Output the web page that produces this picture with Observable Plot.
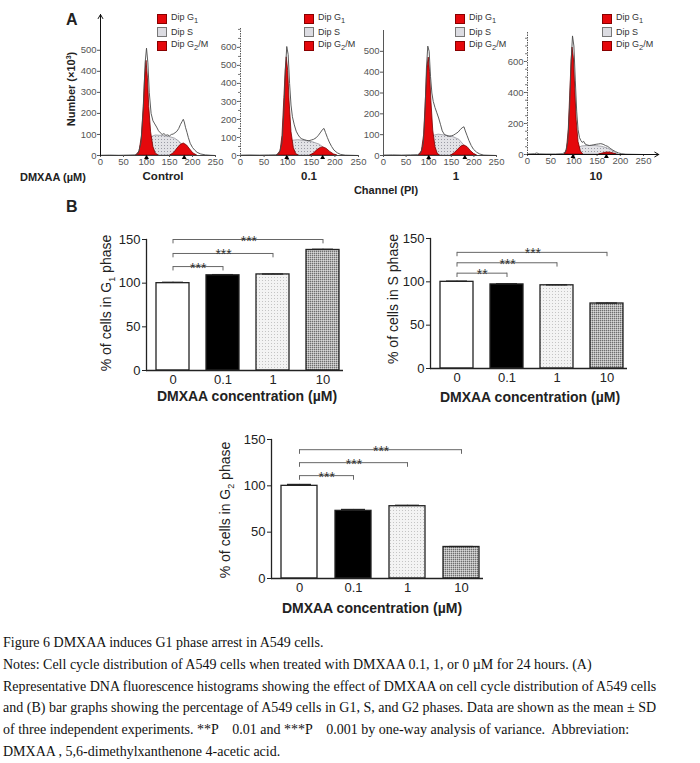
<!DOCTYPE html>
<html><head><meta charset="utf-8">
<script src="https://cdn.jsdelivr.net/npm/d3@7"></script>
<script src="https://cdn.jsdelivr.net/npm/@observablehq/plot@0.6"></script>
<style>
body{margin:0;background:#fff;}
#fig{position:relative;width:700px;height:763px;overflow:hidden;font-family:"Liberation Sans",Arial,sans-serif;color:#222;}
.t{position:absolute;white-space:nowrap;line-height:1;}
.panel{position:absolute;}
.sw{position:absolute;width:10px;height:10px;box-sizing:border-box;}
.cap{position:absolute;left:3px;white-space:pre;font-family:"Liberation Serif","Times New Roman",serif;font-size:14px;color:#111;line-height:1;}
</style></head><body>
<svg width="0" height="0" style="position:absolute">
<defs>
<pattern id="dots" width="3" height="3" patternUnits="userSpaceOnUse"><rect width="3" height="3" fill="#f3f3f3"/><rect x="1" y="1" width="1" height="1" fill="#c4c4c4"/></pattern>
<pattern id="hatch" width="2" height="2" patternUnits="userSpaceOnUse"><rect width="2" height="2" fill="#b4b4b4"/><rect x="0" y="0" width="1" height="1" fill="#6e6e6e"/><rect x="1" y="1" width="1" height="1" fill="#d8d8d8"/></pattern>
<pattern id="sdots" width="3" height="3" patternUnits="userSpaceOnUse"><rect width="3" height="3" fill="#e2e2e6"/><rect x="1" y="1" width="1" height="1" fill="#9a9aa4"/></pattern>
</defs></svg>
<div id="fig"></div>
<script>
// ---------- Panel A data (channel, count) ----------
const histXTicks = [0, 50, 100, 150, 200, 250];
const histLabels = ["Control", "0.1", "1", "10"];
const legendLabels = ["Dip G<sub>1</sub>", "Dip S", "Dip G<sub>2</sub>/M"];

const controlTotal = [[0,1],[20,2],[40,1],[60,2],[75,3],[82,10],[88,60],[93,220],[97,440],[100,510],[103,440],[106,300],[110,200],[114,165],[118,150],[122,135],[126,118],[130,108],[134,100],[138,104],[142,96],[146,98],[150,93],[154,100],[158,102],[162,108],[166,115],[170,128],[174,148],[177,160],[180,172],[182,160],[185,132],[188,110],[191,85],[195,58],[200,38],[205,25],[210,15],[218,7],[228,3],[240,1],[250,0]];
const controlG1 = [[78,0],[85,20],[90,90],[94,230],[97,370],[100,450],[103,370],[106,230],[110,110],[115,40],[120,10],[126,0]];
const controlS = [[92,0],[100,30],[106,70],[112,88],[120,95],[135,93],[150,88],[162,80],[172,65],[180,45],[187,20],[193,0]];
const controlG2 = [[152,0],[160,12],[167,32],[174,50],[181,57],[188,48],[195,28],[202,10],[210,0]];
const controlPeaks = [100, 182];

const t01Total = [[0,2],[20,3],[40,2],[60,3],[75,4],[82,12],[88,70],[92,250],[95,470],[98,605],[101,560],[104,400],[107,280],[110,215],[114,170],[118,135],[122,115],[126,100],[130,92],[135,88],[140,84],[145,82],[150,86],[155,90],[160,98],[165,112],[170,130],[174,145],[177,150],[180,128],[184,100],[188,75],[193,50],[198,30],[205,15],[212,6],[222,2],[250,0]];
const t01G1 = [[78,0],[85,25],[89,110],[93,320],[96,480],[98,545],[101,470],[104,300],[108,130],[113,40],[118,8],[123,0]];
const t01S = [[92,0],[100,35],[106,70],[112,82],[122,85],[140,80],[155,72],[168,60],[178,40],[186,18],[193,0]];
const t01G2 = [[148,0],[156,12],[163,30],[170,42],[175,45],[182,38],[190,20],[198,6],[205,0]];
const t01Peaks = [98, 174];

const t1Total = [[0,2],[20,3],[40,2],[60,3],[75,4],[82,10],[88,55],[92,220],[95,420],[98,525],[101,500],[104,380],[107,300],[110,260],[114,230],[118,205],[122,180],[126,150],[130,118],[135,100],[140,96],[145,92],[150,94],[155,98],[160,105],[165,112],[170,125],[174,133],[178,138],[181,118],[185,95],[189,72],[194,48],[199,30],[206,16],[213,7],[222,2],[250,0]];
const t1G1 = [[78,0],[85,20],[90,100],[94,280],[97,420],[100,470],[103,400],[106,260],[110,120],[115,40],[120,8],[125,0]];
const t1S = [[92,0],[100,30],[106,75],[112,95],[122,100],[140,95],[155,88],[168,75],[178,50],[187,22],[194,0]];
const t1G2 = [[150,0],[158,12],[166,30],[173,44],[179,48],[186,40],[193,22],[200,8],[207,0]];
const t1Peaks = [100, 180];

const t10Total = [[0,3],[15,5],[20,10],[25,4],[40,3],[60,3],[75,5],[82,15],[87,90],[91,330],[94,600],[97,765],[100,700],[103,480],[106,280],[109,160],[112,110],[115,90],[118,78],[121,85],[124,68],[128,62],[133,58],[138,60],[143,63],[148,66],[153,68],[158,70],[163,66],[168,58],[173,52],[178,40],[184,28],[190,18],[196,10],[203,5],[212,2],[250,0]];
const t10G1 = [[80,0],[85,30],[89,160],[92,380],[95,600],[97,690],[100,620],[103,420],[106,220],[110,80],[115,20],[120,0]];
const t10S = [[96,0],[104,25],[110,42],[118,52],[130,55],[145,55],[160,50],[172,40],[182,25],[190,10],[196,0]];
const t10G2 = [[155,0],[162,6],[168,11],[174,13],[180,11],[186,6],[192,0]];
const t10Peaks = [98, 170];

const hist1YTicks = [0,100,200,300,400,500];
const hist2YTicks = [0,100,200,300,400,500,600];
const hist3YTicks = [0,100,200,300,400,500];
const hist4YTicks = [0,200,400,600];

// ---------- Panel B data ----------
const concentrations = ["0", "0.1", "1", "10"];
const g1Values = [100, 109, 110, 138];
const g1Sd = [1.0, 0.8, 0.5, 0.8];
const sValues = [100, 97, 96, 75];
const sSd = [0.8, 0.8, 0.5, 0.5];
const g2Values = [100, 73, 78, 34];
const g2Sd = [1.5, 1.5, 1.0, 0.5];
const g1Brackets = [{to:"10", y:150, label:"***"}, {to:"1", y:134, label:"***"}, {to:"0.1", y:119, label:"***"}];
const sBrackets = [{to:"10", y:134, label:"***"}, {to:"1", y:122, label:"***"}, {to:"0.1", y:110, label:"**"}];
const g2Brackets = [{to:"10", y:139, label:"***"}, {to:"1", y:125, label:"***"}, {to:"0.1", y:111, label:"***"}];
const yTicksB = [0, 50, 100, 150];
const barFills = ["#ffffff", "#000000", "url(#dots)", "url(#hatch)"];

const captionLines = [
  "Figure 6 DMXAA induces G1 phase arrest in A549 cells.",
  "Notes: Cell cycle distribution of A549 cells when treated with DMXAA 0.1, 1, or 0 \u00b5M for 24 hours. (A)",
  "Representative DNA fluorescence histograms showing the effect of DMXAA on cell cycle distribution of A549 cells",
  "and (B) bar graphs showing the percentage of A549 cells in G1, S, and G2 phases. Data are shown as the mean \u00b1 SD",
  "of three independent experiments. **P    0.01 and ***P    0.001 by one-way analysis of variance.  Abbreviation:",
  "DMXAA , 5,6-dimethylxanthenone 4-acetic acid."
];

// ---------- helpers ----------
const fig = document.getElementById("fig");
function text(html, x, y, {size=11, weight="normal", anchor="middle", rotate=0, color="#222", family=null}={}) {
  const d = document.createElement("div");
  d.className = "t";
  d.innerHTML = html;
  d.style.fontSize = size + "px";
  d.style.fontWeight = weight;
  d.style.color = color;
  if (family) d.style.fontFamily = family;
  d.style.left = x + "px";
  d.style.top = y + "px";
  const tx = anchor === "middle" ? "-50%" : "0";
  d.style.transform = `translate(${tx},-50%)` + (rotate ? ` rotate(${rotate}deg)` : "");
  d.style.transformOrigin = anchor === "middle" ? "center" : "left center";
  fig.appendChild(d);
}
function place(svg, left, top) {
  const d = document.createElement("div");
  d.className = "panel";
  d.style.left = left + "px";
  d.style.top = top + "px";
  d.appendChild(svg);
  fig.appendChild(d);
}
const baseStyle = {background:"transparent", overflow:"visible", fontFamily:"Liberation Sans, Arial, sans-serif", color:"#333"};

function histogram(o) {
  const X = d => d[0], Y = d => d[1];
  const marks = [
    Plot.areaY(o.s, {x:X, y:Y, fill:"url(#sdots)", stroke:"#8a8a92", strokeWidth:0.7}),
    Plot.areaY(o.g2, {x:X, y:Y, fill:"#e5080c", stroke:"#7a0000", strokeWidth:0.8}),
    Plot.areaY(o.g1, {x:X, y:Y, fill:"#e5080c", stroke:"#7a0000", strokeWidth:0.8}),
    Plot.line(o.total, {x:X, y:Y, stroke:"#4a4a4a", strokeWidth:0.9}),
    Plot.ruleX([0], {stroke:"#444", strokeWidth:0.9, strokeDasharray:o.dash}),
    Plot.ruleY([0], {stroke:"#333", strokeWidth:0.9}),
    Plot.axisX({ticks:histXTicks, tickSize:2, tickPadding:1, fontSize:9.5, label:null, color:"#555"}),
    Plot.axisY({ticks:o.yticks, tickSize:3, tickPadding:1, fontSize:9.5, label:null, color:"#555"}),
    Plot.dot(o.peaks, {x:d=>d, y:0, symbol:"triangle", r:1.8, fill:"#000", dy:2})
  ];
  if (o.minor) marks.push(Plot.axisY({ticks:d3.range(0, o.ymax, 50), tickSize:2, text:null, label:null, color:"#777"}));
  if (o.arrowY) marks.push(Plot.arrow([0], {x1:0, x2:0, y1:0, y2:o.ymax, stroke:"#111", strokeWidth:1, headLength:7}));
  if (o.arrowX) marks.push(Plot.arrow([0], {x1:0, x2:o.arrowX, y1:0, y2:0, stroke:"#111", strokeWidth:1, headLength:7}));
  const svg = Plot.plot({
    width:o.width, height:o.height, marginTop:o.mt, marginBottom:o.mb, marginLeft:o.ml, marginRight:o.mr,
    style:baseStyle,
    x:{domain:[0,250]}, y:{domain:[0,o.ymax]},
    marks
  });
  place(svg, o.left, o.top);
}

histogram({left:70, top:0, width:160, height:185, mt:14, mb:30, ml:30, mr:15, ymax:670, yticks:hist1YTicks, total:controlTotal, g1:controlG1, s:controlS, g2:controlG2, peaks:controlPeaks, arrowY:true});
histogram({left:210, top:0, width:163, height:185, mt:28, mb:30, ml:30, mr:15, ymax:705, yticks:hist2YTicks, total:t01Total, g1:t01G1, s:t01S, g2:t01G2, peaks:t01Peaks, minor:true, dash:"1.5,1"});
histogram({left:353, top:0, width:159, height:185, mt:30, mb:30, ml:30, mr:16, ymax:600, yticks:hist3YTicks, total:t1Total, g1:t1G1, s:t1S, g2:t1G2, peaks:t1Peaks});
histogram({left:497, top:0, width:171, height:184, mt:32, mb:30, ml:30, mr:25, ymax:787, yticks:hist4YTicks, total:t10Total, g1:t10G1, s:t10S, g2:t10G2, peaks:t10Peaks, minor:true, dash:"1.5,1", arrowX:283});

// legends
[157, 304, 455, 602].forEach(sx => {
  [14, 27, 41].forEach((sy, i) => {
    const s = document.createElement("div");
    s.className = "sw";
    s.style.left = sx + "px"; s.style.top = sy + "px";
    s.style.background = i === 1 ? "#dcdce2" : "#e5080c";
    s.style.border = i === 1 ? "1px solid #777" : "1px solid #800";
    fig.appendChild(s);
    text(legendLabels[i], sx + 14, sy + 5, {size:9, anchor:"start", color:"#333"});
  });
});

text("A", 66, 20, {size:16, weight:"bold", anchor:"start"});
text("Number (\u00d710<sup style='font-size:7px'>3</sup>)", 71, 89, {size:11, weight:"bold", rotate:-90});
text("DMXAA (\u00b5M)", 20, 177, {size:11, weight:"bold", anchor:"start"});
[163, 309, 456, 596].forEach((cx, i) => text(histLabels[i], cx, 177, {size:11.5, weight:"bold"}));
text("Channel (PI)", 386, 190, {size:11, weight:"bold"});
text("B", 66, 207, {size:16, weight:"bold", anchor:"start"});

// ---------- bar charts ----------
function barChart(o) {
  const data = concentrations.map((c, i) => ({c, v:o.values[i], sd:o.sds[i], fill:barFills[i]}));
  const xOpts = {domain:concentrations, paddingInner:0.335, paddingOuter:0.115, align:0.73};
  const xs = Plot.scale({x:{...xOpts, type:"band", range:[o.ml, o.width - o.mr]}});
  const drop = o.drop;
  const marks = [
    Plot.barY(data, {x:"c", y:"v", fill:"fill", stroke:"#222", strokeWidth:1.3}),
    Plot.ruleX(data, {x:"c", y1:"v", y2:d => d.v + d.sd, stroke:"#222", strokeWidth:1.2}),
    Plot.tickY(data, {x:"c", y:d => d.v + d.sd, insetLeft:6, insetRight:6, stroke:"#222", strokeWidth:1.3}),
    Plot.link(o.brackets, {x1:() => "0", x2:"to", y1:"y", y2:"y", stroke:"#666", strokeWidth:1}),
    Plot.ruleX(o.brackets, {x:() => "0", y1:"y", y2:d => d.y - drop, stroke:"#666", strokeWidth:1}),
    Plot.ruleX(o.brackets, {x:"to", y1:"y", y2:d => d.y - drop, stroke:"#666", strokeWidth:1}),
    ...o.brackets.map(b => Plot.text([b], {x:() => "0", y:"y", text:"label", dx:(xs.apply(b.to) - xs.apply("0")) / 2, dy:6, lineAnchor:"bottom", fontSize:14, fill:"#333"})),
    Plot.ruleY([0], {stroke:"#222", strokeWidth:1.3}),
    Plot.frame({anchor:"left", stroke:"#222", strokeWidth:1.3}),
    Plot.axisX({tickSize:0, tickPadding:4, fontSize:13, label:null, color:"#222"}),
    Plot.axisY({ticks:yTicksB, tickSize:4, tickPadding:2, fontSize:13, label:null, color:"#222"})
  ];
  const svg = Plot.plot({
    width:o.width, height:o.height, marginTop:o.mt, marginBottom:o.mb, marginLeft:o.ml, marginRight:o.mr,
    style:baseStyle, x:xOpts, y:{domain:[0,150]}, marks
  });
  place(svg, o.left, o.top);
}

barChart({left:90, top:225, width:265, height:175, mt:14, mb:30, ml:56, mr:12, values:g1Values, sds:g1Sd, brackets:g1Brackets, drop:5});
barChart({left:374, top:224, width:265, height:174, mt:14, mb:30, ml:56, mr:12, values:sValues, sds:sSd, brackets:sBrackets, drop:5});
barChart({left:215, top:425, width:280, height:183, mt:14, mb:30, ml:56, mr:12, values:g2Values, sds:g2Sd, brackets:g2Brackets, drop:5});

text("% of cells in G<sub style='font-size:9px'>1</sub> phase", 108, 303, {size:14, rotate:-90});
text("DMXAA concentration (\u00b5M)", 247, 396, {size:14, weight:"bold"});
text("% of cells in S phase", 393, 299, {size:14, rotate:-90});
text("DMXAA concentration (\u00b5M)", 530, 397, {size:14, weight:"bold"});
text("% of cells in G<sub style='font-size:9px'>2</sub> phase", 227, 510, {size:14, rotate:-90});
text("DMXAA concentration (\u00b5M)", 372, 608, {size:14, weight:"bold"});

// caption
captionLines.forEach((line, i) => {
  const d = document.createElement("div");
  d.className = "cap";
  d.textContent = line;
  d.style.top = (636 + i * 21.8) + "px";
  fig.appendChild(d);
});
</script></body></html>
